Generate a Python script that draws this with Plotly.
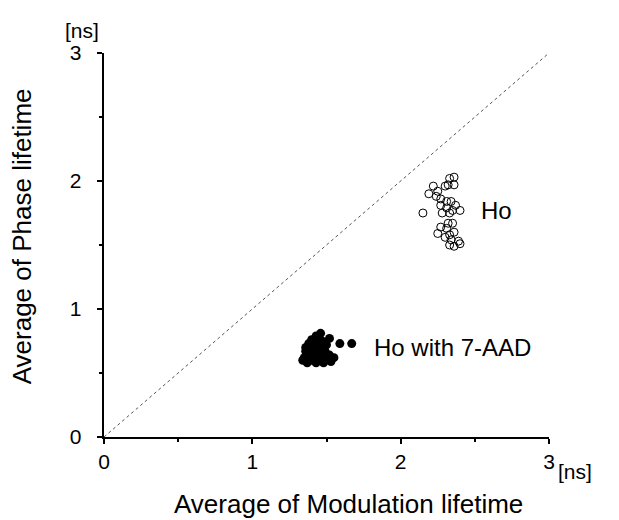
import plotly.graph_objects as go

# Ho (open circles): modulation lifetime (x) vs phase lifetime (y), ns
ho_mod = [2.33, 2.36, 2.36, 2.32, 2.22, 2.25, 2.19, 2.27, 2.31, 2.34, 2.37, 2.27,
          2.31, 2.35, 2.40, 2.33, 2.15, 2.28, 2.32, 2.35, 2.27, 2.31, 2.36, 2.25,
          2.33, 2.30, 2.34, 2.39, 2.33, 2.36, 2.40, 2.30, 2.24]
ho_phase = [2.02, 2.03, 1.97, 1.97, 1.96, 1.92, 1.90, 1.86, 1.84, 1.84, 1.81, 1.81,
            1.79, 1.77, 1.77, 1.75, 1.75, 1.75, 1.67, 1.67, 1.64, 1.63, 1.60, 1.59,
            1.58, 1.56, 1.54, 1.53, 1.50, 1.49, 1.51, 1.96, 1.88]

# Ho with 7-AAD (filled circles)
aad_mod = [1.46, 1.43, 1.52, 1.40, 1.47, 1.38, 1.43, 1.50, 1.36, 1.41, 1.46, 1.39,
           1.44, 1.49, 1.37, 1.42, 1.47, 1.52, 1.35, 1.40, 1.45, 1.50, 1.55, 1.37,
           1.43, 1.48, 1.53, 1.34, 1.59, 1.67, 1.36, 1.44]
aad_phase = [0.81, 0.79, 0.77, 0.76, 0.75, 0.73, 0.72, 0.72, 0.70, 0.69, 0.69, 0.66,
             0.66, 0.67, 0.64, 0.63, 0.64, 0.64, 0.62, 0.60, 0.61, 0.61, 0.62, 0.58,
             0.58, 0.58, 0.59, 0.60, 0.73, 0.73, 0.67, 0.77]

diag = [0, 3]
ticks = [0, 1, 2, 3]
tick_text = ["0", "1", "2", "3"]

FONT = "Liberation Sans, Arial, sans-serif"
# transparent spacer so y tick labels sit a little further from the axis
SPACER = "<span style='color:rgba(0,0,0,0)'>0</span>"

fig = go.Figure()
fig.add_trace(go.Scatter(x=diag, y=diag, mode="lines",
                         line=dict(color="#555555", width=1, dash="dot"),
                         hoverinfo="skip", showlegend=False))
fig.add_trace(go.Scatter(x=ho_mod, y=ho_phase, mode="markers",
                         marker=dict(symbol="circle-open", size=8,
                                     color="black", line=dict(width=1, color="black")),
                         showlegend=False, name="Ho"))
fig.add_trace(go.Scatter(x=aad_mod, y=aad_phase, mode="markers",
                         marker=dict(symbol="circle", size=9, color="black"),
                         showlegend=False, name="Ho with 7-AAD"))

axis_common = dict(range=[0, 3], tickvals=ticks,
                   showline=True, linecolor="black", linewidth=1.5,
                   ticks="outside", ticklen=5, tickwidth=1.5, tickcolor="black",
                   showgrid=False, zeroline=False,
                   tickfont=dict(family=FONT, size=21, color="black"),
                   minor=dict(ticks="outside", ticklen=3, tickcolor="black",
                              dtick=0.5, tick0=0, showgrid=False))

fig.update_layout(
    width=619, height=520,
    margin=dict(l=96, r=78, t=45, b=91),
    paper_bgcolor="white", plot_bgcolor="white",
    xaxis=dict(**axis_common, ticktext=tick_text, ticklabelstandoff=0),
    yaxis=dict(**axis_common, ticktext=[t + SPACER for t in tick_text]),
    font=dict(family=FONT, color="black"),
    annotations=[
        dict(text="Average of Modulation lifetime", xref="paper", yref="paper",
             x=0.55, y=-0.175, xanchor="center", yanchor="middle",
             showarrow=False, font=dict(size=26)),
        dict(text="Average of Phase lifetime", xref="paper", yref="paper",
             x=-0.184, y=0.523, xanchor="center", yanchor="middle", textangle=-90,
             showarrow=False, font=dict(size=26)),
        dict(text="[ns]", xref="paper", yref="paper", x=1.058, y=-0.091,
             xanchor="center", yanchor="middle", showarrow=False, font=dict(size=21)),
        dict(text="[ns]", xref="paper", yref="paper", x=-0.049, y=1.058,
             xanchor="center", yanchor="middle", showarrow=False, font=dict(size=21)),
        dict(text="Ho", xref="x", yref="y", x=2.53, y=1.77,
             xanchor="left", yanchor="middle", showarrow=False, font=dict(size=24)),
        dict(text="Ho with 7-AAD", xref="x", yref="y", x=1.81, y=0.70,
             xanchor="left", yanchor="middle", showarrow=False, font=dict(size=24)),
    ],
)

fig.write_html("out.html")
